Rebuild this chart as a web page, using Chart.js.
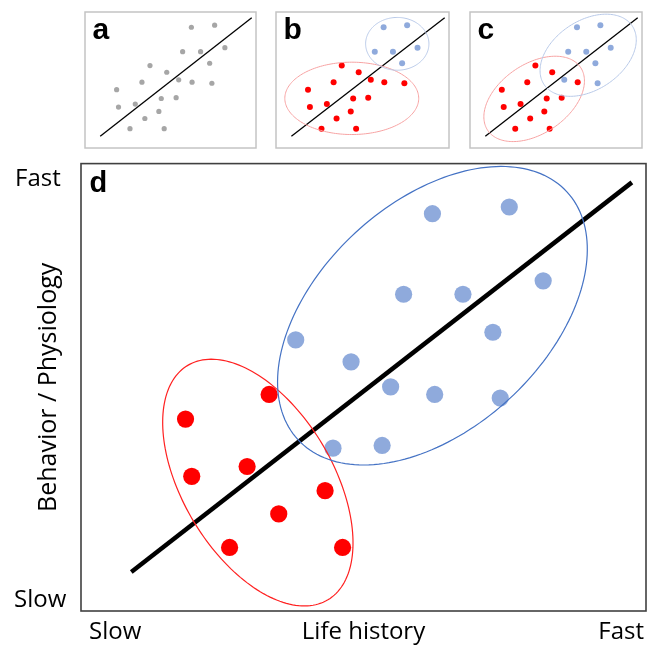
<!DOCTYPE html>
<html>
<head>
<meta charset="utf-8">
<script src="https://cdn.jsdelivr.net/npm/chart.js@4.4.1/dist/chart.umd.min.js"></script>
<style>
  body { margin: 0; background: #fff; }
  #wrap { position: relative; width: 655px; height: 647px; overflow: hidden; }
  #wrap canvas { position: absolute; }
</style>
</head>
<body>
<div id="wrap">
  <canvas id="chartD" width="655" height="492" style="left:0;top:155px"></canvas>
  <canvas id="chartA" width="179" height="144" style="left:81px;top:8px"></canvas>
  <canvas id="chartB" width="181" height="144" style="left:272px;top:8px"></canvas>
  <canvas id="chartC" width="180" height="144" style="left:466px;top:8px"></canvas>
</div>
<script>
// ===== Data (0 = slow, 100 = fast) =====
const lifeHistory = [62.2, 75.8, 57.1, 67.6, 81.8, 38.0, 47.8, 72.9, 33.3, 54.8, 62.6,
                     74.2, 18.5, 44.6, 53.3, 19.6, 29.4, 43.2, 35.0, 26.3, 46.3];
const behaviour   = [88.8, 90.3, 70.8, 70.8, 73.8, 60.6, 55.7, 62.3, 48.4, 50.1, 48.4,
                     47.6, 42.9, 36.4, 37.0, 30.1, 32.3, 26.9, 21.7, 14.2, 14.2];

// points that fall in the "fast" group of each panel (the rest are "slow")
const fastB = [0, 1, 2, 3, 4, 7];
const fastC = [0, 1, 2, 3, 4, 7, 9, 11];
const fastD = [0, 1, 2, 3, 4, 5, 6, 7, 9, 10, 11, 13, 14];

// pace-of-life axis
const trendX = [8.9, 97.5];
const trendY = [8.7, 95.8];

// group ellipses: centre x, centre y, then the two semi-axis vectors
const slowEllipseB = [43.8, 36.5, 38.7, 0, 0, 26.6];
const fastEllipseB = [70.1, 76.6, 18.3, 0, 0, 19.4];
const slowEllipseC = [37.3, 36.1, 26.8, 23.5, 11.7, -20.8];
const fastEllipseC = [68.7, 68.2, 25.5, 21.8, 11.5, -20.9];
const slowEllipseD = [31.3, 28.7, 12.4, -26.2, -11.4, -8.6];
const fastEllipseD = [62.2, 66.0, 23.8, 27.7, 13.6, -18.6];

const xTickLabels = ['Slow', 'Fast'];
const yTickLabels = ['Slow', 'Fast'];
const xTitle = 'Life history';
const yTitle = 'Behavior / Physiology';

// ===== Styles =====
const RED = '#ff0000';
const BLUE = '#8faadc';
const GREY = '#a6a6a6';

// ===== Helpers =====
function pointsOf(indices, inGroup) {
  return lifeHistory
    .map((x, i) => ({ x, y: behaviour[i], i }))
    .filter(p => !indices || indices.includes(p.i) === inGroup);
}

function trendData() {
  return trendX.map((x, i) => ({ x, y: trendY[i] }));
}

// draws the group ellipses through the chart's own scales
const ellipsePlugin = {
  id: 'ellipses',
  afterDatasetsDraw(chart, args, opts) {
    const { ctx, scales: { x, y } } = chart;
    (opts.list || []).forEach(item => {
      const [cx, cy, ax, ay, bx, by] = item.shape;
      ctx.save();
      ctx.beginPath();
      for (let k = 0; k <= 180; k++) {
        const t = k / 180 * Math.PI * 2;
        const px = x.getPixelForValue(cx + ax * Math.cos(t) + bx * Math.sin(t));
        const py = y.getPixelForValue(cy + ay * Math.cos(t) + by * Math.sin(t));
        if (k === 0) ctx.moveTo(px, py); else ctx.lineTo(px, py);
      }
      ctx.closePath();
      ctx.strokeStyle = item.color;
      ctx.lineWidth = item.width;
      ctx.stroke();
      ctx.restore();
    });
  }
};

// frame + panel letter
const framePlugin = {
  id: 'frame',
  afterDraw(chart, args, opts) {
    const { ctx, chartArea: a } = chart;
    ctx.save();
    ctx.strokeStyle = opts.color;
    ctx.lineWidth = opts.width;
    ctx.strokeRect(a.left, a.top, a.right - a.left, a.bottom - a.top);
    ctx.fillStyle = '#000';
    ctx.font = 'bold ' + opts.letterSize + 'px "Liberation Sans", Arial, sans-serif';
    ctx.textBaseline = 'alphabetic';
    ctx.fillText(opts.letter, a.left + opts.letterX, a.top + opts.letterY);
    ctx.restore();
  }
};

// axis words around the big panel
const axisTextPlugin = {
  id: 'axisText',
  afterDraw(chart) {
    const { ctx, chartArea: a } = chart;
    ctx.save();
    ctx.fillStyle = '#000';
    ctx.textBaseline = 'alphabetic';
    ctx.font = '24px "Open Sans", sans-serif';
    // y ticks
    ctx.textAlign = 'left';
    ctx.fillText(yTickLabels[1], a.left - 66, a.top + 22);
    ctx.fillText(yTickLabels[0], a.left - 67, a.bottom - 4);
    // x ticks + title
    ctx.fillText(xTickLabels[0], a.left + 8, a.bottom + 28);
    ctx.textAlign = 'right';
    ctx.fillText(xTickLabels[1], a.right - 2, a.bottom + 28);
    ctx.textAlign = 'center';
    ctx.fillText(xTitle, (a.left + a.right) / 2, a.bottom + 28);
    // y title
    ctx.translate(a.left - 25, (a.top + a.bottom) / 2);
    ctx.rotate(-Math.PI / 2);
    ctx.font = '25px "Open Sans", sans-serif';
    ctx.fillText(yTitle, 0, 0);
    ctx.restore();
  }
};

function makePanel(id, datasets, ellipses, frame, padding, lineWidth) {
  datasets.push({
    data: trendData(),
    showLine: true,
    borderColor: '#000',
    borderWidth: lineWidth,
    pointRadius: 0,
    order: -1
  });
  return new Chart(document.getElementById(id), {
    type: 'scatter',
    data: { datasets },
    options: {
      responsive: false,
      animation: false,
      events: [],
      layout: { padding },
      scales: {
        x: { type: 'linear', min: 0, max: 100, display: false },
        y: { type: 'linear', min: 0, max: 100, display: false }
      },
      plugins: {
        legend: { display: false },
        tooltip: { enabled: false },
        ellipses: { list: ellipses },
        frame
      }
    },
    plugins: [ellipsePlugin, framePlugin]
  });
}

function dots(data, color, r) {
  return { data, backgroundColor: color, borderWidth: 0, pointRadius: r };
}

const smallFrame = letter => ({ color: '#c4c4c4', width: 1.5, letter, letterSize: 30, letterX: 7.5, letterY: 26.5 });

// ===== Panel a =====
makePanel('chartA', [dots(pointsOf(null), GREY, 2.6)], [], smallFrame('a'), 1, 1.3);

// ===== Panel b =====
makePanel('chartB',
  [dots(pointsOf(fastB, false), RED, 3), dots(pointsOf(fastB, true), BLUE, 3)],
  [{ shape: slowEllipseB, color: '#f7a3a3', width: 1 },
   { shape: fastEllipseB, color: '#b8c9e8', width: 1 }],
  smallFrame('b'), 1, 1.3);

// ===== Panel c =====
makePanel('chartC',
  [dots(pointsOf(fastC, false), RED, 3), dots(pointsOf(fastC, true), BLUE, 3)],
  [{ shape: slowEllipseC, color: '#f7a3a3', width: 1 },
   { shape: fastEllipseC, color: '#b8c9e8', width: 1 }],
  smallFrame('c'), 1, 1.3);

// ===== Panel d =====
const chartD = makePanel('chartD',
  [dots(pointsOf(fastD, false), RED, 8.6), dots(pointsOf(fastD, true), BLUE, 8.6)],
  [{ shape: slowEllipseD, color: '#ff2020', width: 1.2 },
   { shape: fastEllipseD, color: '#4472c4', width: 1.2 }],
  { color: '#404040', width: 1.6, letter: 'd', letterSize: 29, letterX: 8.5, letterY: 28.5 },
  { left: 81, right: 9, top: 8, bottom: 36 }, 4.5);
chartD.config.plugins.push(axisTextPlugin);
chartD.update();
</script>
</body>
</html>
